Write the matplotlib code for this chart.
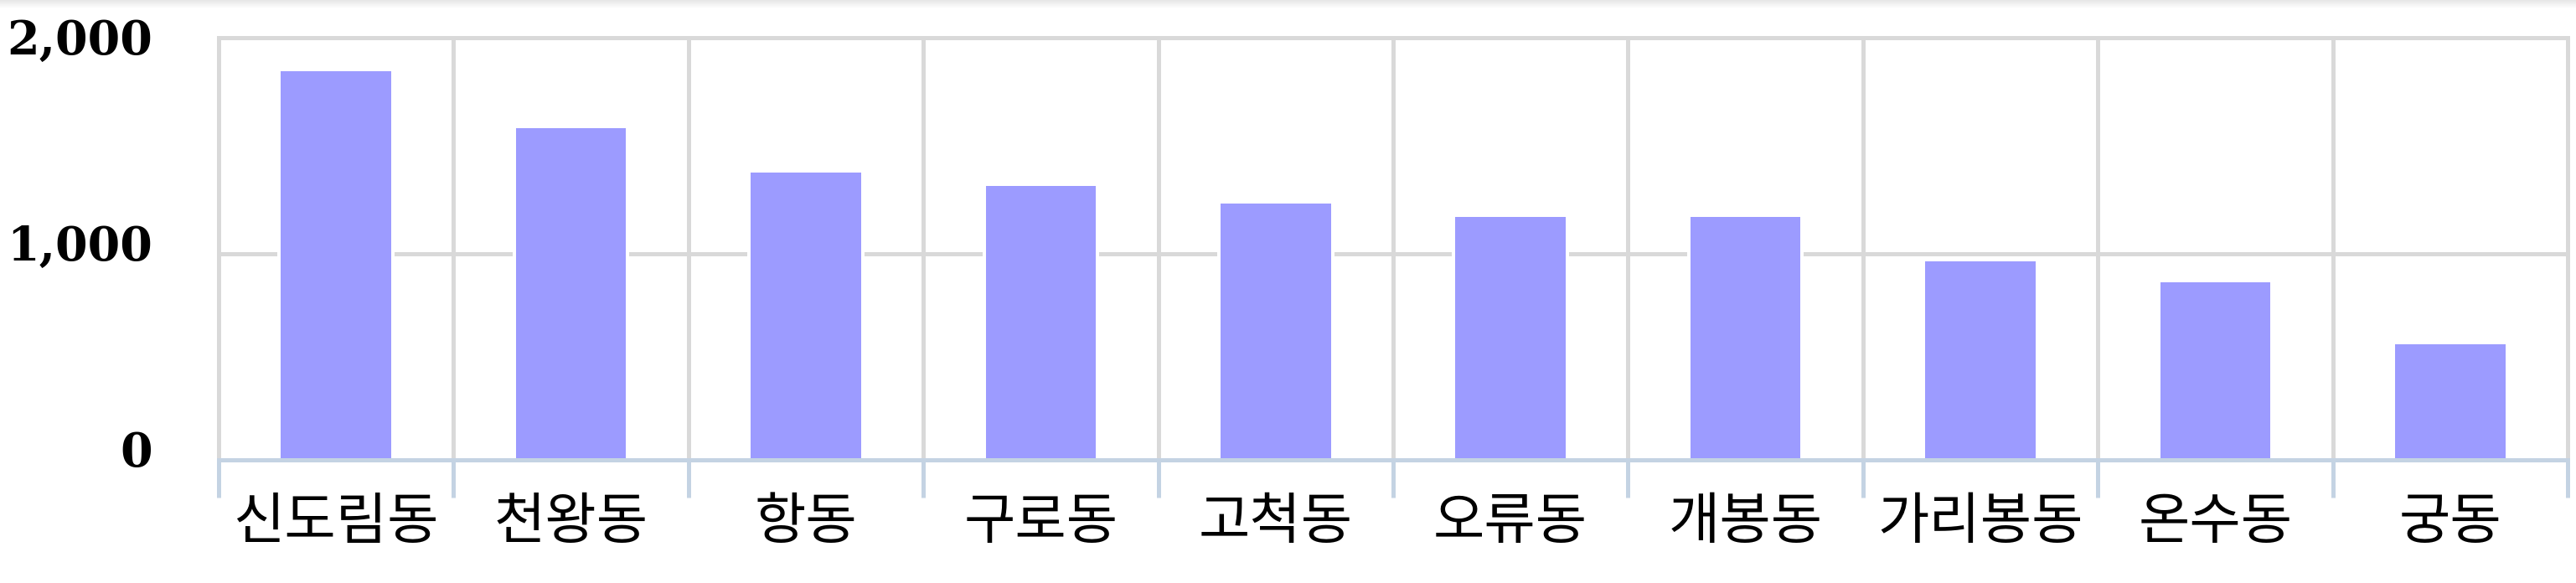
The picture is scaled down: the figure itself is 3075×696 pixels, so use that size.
import matplotlib
matplotlib.use("Agg")
import matplotlib.pyplot as plt
import matplotlib.transforms as mtransforms
import numpy as np

districts = ["신도림동", "천왕동", "항동", "구로동", "고척동", "오류동", "개봉동", "가리봉동", "온수동", "궁동"]
counts = [1888, 1610, 1394, 1332, 1245, 1180, 1180, 966, 861, 561]
y_ticks = [0, 1000, 2000]
y_tick_labels = ["0", "1,000", "2,000"]

BAR = "#9c9bff"
GRID = "#d9d9d9"
AXIS = "#c4d3e3"
PX = 0.72  # points per pixel at dpi 100

fig = plt.figure(figsize=(30.75, 6.96), dpi=100, facecolor="white")

# faint shade along the top edge
shade = fig.add_axes([0, 1 - 10 / 696, 1, 10 / 696])
shade.imshow(np.linspace(0.90, 1.0, 32).reshape(-1, 1), cmap="gray", vmin=0, vmax=1,
             aspect="auto", extent=(0, 1, 0, 1))
shade.axis("off")

ax = fig.add_axes([261 / 3075, (696 - 549) / 696, 2804 / 3075, (549 - 45) / 696])
x = np.arange(len(districts))

# white halo under the bars breaks the grid line around each bar
ax.bar(x, counts, width=0.47, color="white", edgecolor="white", linewidth=8 * PX, zorder=2)
ax.bar(x, counts, width=0.47, color=BAR, linewidth=0, zorder=3)

ax.set_xlim(-0.5, len(districts) - 0.5)
ax.set_ylim(0, 2050)

ax.set_xticks(x)
ax.set_xticklabels(districts, family=["Noto Sans CJK KR", "DejaVu Sans"], fontsize=48)
ax.set_xticks(np.arange(-0.5, len(districts), 1.0), minor=True)
ax.tick_params(axis="x", which="major", length=0, pad=30)
ax.tick_params(axis="x", which="minor", length=45 * PX, width=5 * PX, color=AXIS, direction="out")
ax.grid(axis="x", which="minor", color=GRID, linewidth=5 * PX, zorder=1)

ax.set_yticks(y_ticks)
ax.set_yticklabels(y_tick_labels, family="DejaVu Serif", fontweight="bold", fontsize=40)
ax.tick_params(axis="y", length=0, pad=57)
ax.grid(axis="y", which="major", color=GRID, linewidth=5 * PX, zorder=1)
for line in ax.get_ygridlines()[::2]:
    line.set_visible(False)
shift = mtransforms.ScaledTranslation(0, 0.14, fig.dpi_scale_trans)
for label in ax.get_yticklabels():
    label.set_transform(label.get_transform() + shift)

ax.set_axisbelow(True)
for side in ("left", "right", "top"):
    ax.spines[side].set_color(GRID)
    ax.spines[side].set_linewidth(5 * PX)
    ax.spines[side].set_zorder(1)
ax.spines["bottom"].set_color(AXIS)
ax.spines["bottom"].set_linewidth(5 * PX)
ax.spines["bottom"].set_zorder(4)

fig.savefig("out.png", dpi=100, facecolor="white")
